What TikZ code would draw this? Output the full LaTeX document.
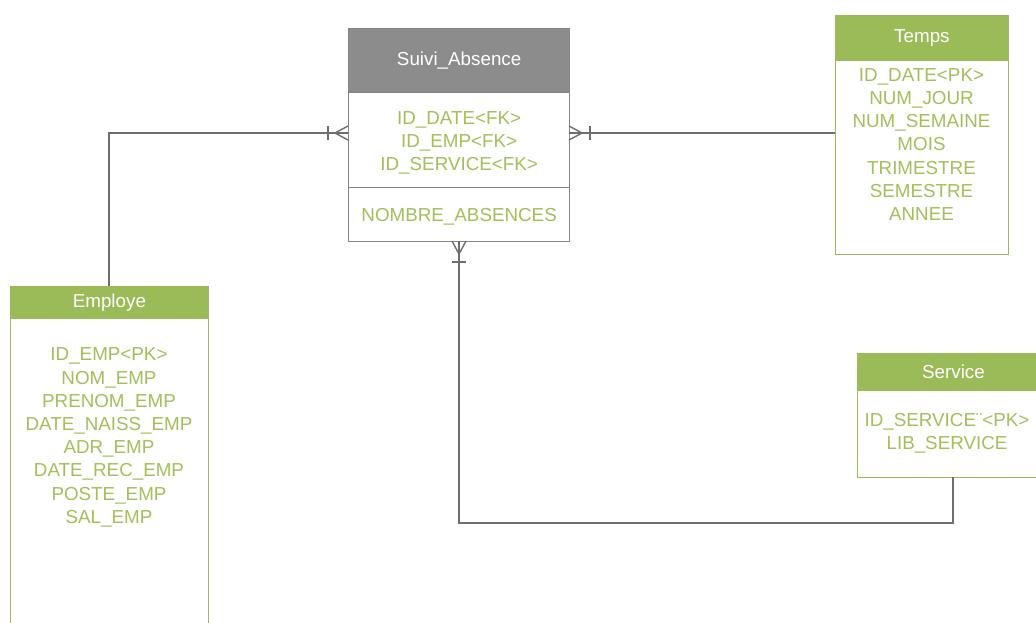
\documentclass[tikz,border=0pt]{standalone}
\usepackage{fontspec}
\setmainfont{Liberation Sans}
\definecolor{hdrgreen}{HTML}{9BBB59}
\definecolor{attrgreen}{HTML}{A3BF5A}
\definecolor{hdrgray}{HTML}{8C8C8C}
\definecolor{linegray}{HTML}{6E6E6E}
\definecolor{boxgray}{HTML}{858585}
\begin{document}
\begin{tikzpicture}[x=1pt,y=-1pt,
  txt/.style={font=\fontsize{18.8}{23.2}\selectfont, align=center, inner sep=0pt},
  attr/.style={txt, text=attrgreen},
  hdrtxt/.style={txt, text=white},
  ghdr/.style={fill=hdrgreen, draw=hdrgreen, line width=0.8pt},
  gbody/.style={draw=hdrgreen, line width=1.3pt, fill=white},
  rel/.style={draw=linegray, line width=1.4pt},
  foot/.style={draw=linegray, line width=1.4pt}]
\useasboundingbox (0,0) rectangle (1036,622);
\clip (0,0) rectangle (1036,622);

% ---------- connector anchors ----------
\coordinate (eTop) at (109,286);
\coordinate (sL) at (348,133);
\coordinate (sR) at (569,133);
\coordinate (tL) at (835,133);
\coordinate (sB) at (459,241);
\coordinate (vB) at (953,477);
\coordinate (vC) at (953,523);

% ---------- Suivi_Absence ----------
\node[fill=hdrgray, draw=boxgray, line width=1.3pt, minimum width=221pt, minimum height=64pt, anchor=north west, inner sep=0pt] (sh) at (348,28) {};
\node[draw=boxgray, line width=1.3pt, fill=white, minimum width=221pt, minimum height=95pt, anchor=north west, inner sep=0pt] (sb) at (348,92) {};
\node[draw=boxgray, line width=1.3pt, fill=white, minimum width=221pt, minimum height=54pt, anchor=north west, inner sep=0pt] (sm) at (348,187) {};
\node[hdrtxt] (sht) at (sh.center) {Suivi\_Absence};
\node[attr] (sbt) at ([yshift=-3pt]sb.center) {ID\_DATE<FK>\\ID\_EMP<FK>\\ID\_SERVICE<FK>};
\node[attr] (smt) at ([yshift=-2pt]sm.center) {NOMBRE\_ABSENCES};

% ---------- Temps ----------
\node[gbody, minimum width=173pt, minimum height=239pt, anchor=north west, inner sep=0pt] (tb) at (835,15) {};
\node[ghdr, minimum width=173pt, minimum height=45pt, anchor=north west, inner sep=0pt] (th) at (835,15) {};
\node[hdrtxt] (tht) at (th.center) {Temps};
\node[attr] (tbt) at (921.5,144.5) {ID\_DATE<PK>\\NUM\_JOUR\\NUM\_SEMAINE\\MOIS\\TRIMESTRE\\SEMESTRE\\ANNEE};

% ---------- Employe ----------
\node[gbody, minimum width=198pt, minimum height=360pt, anchor=north west, inner sep=0pt] (eb) at (10,286) {};
\node[ghdr, minimum width=198pt, minimum height=32pt, anchor=north west, inner sep=0pt] (eh) at (10,286) {};
\node[hdrtxt] (eht) at (eh.center) {Employe};
\node[attr] (ebt) at (109,437.5) {ID\_EMP<PK>\\NOM\_EMP\\PRENOM\_EMP\\DATE\_NAISS\_EMP\\ADR\_EMP\\DATE\_REC\_EMP\\POSTE\_EMP\\SAL\_EMP};

% ---------- Service ----------
\node[gbody, minimum width=200pt, minimum height=124pt, anchor=north west, inner sep=0pt] (vb) at (857,353) {};
\node[ghdr, minimum width=200pt, minimum height=37pt, anchor=north west, inner sep=0pt] (vh) at (857,353) {};
\node[hdrtxt] (vht) at (953.5,371.5) {Service};
\node[attr] (vbt) at (947,433.5) {ID\_SERVICE¨<PK>\\LIB\_SERVICE};

% ---------- connectors ----------
\draw[rel] (eTop) |- (sL);
\draw[rel] (tL) -- (sR);
\draw[rel] (vB) -- (vC) -| (sB);

% crow's feet at Suivi_Absence
\draw[foot] (335,133) -- (348,126) (335,133) -- (348,140);
\draw[foot] (328,126) -- (328,140);
\draw[foot] (582,133) -- (569,126) (582,133) -- (569,140);
\draw[foot] (590,126) -- (590,140);
\draw[foot] (459,254) -- (452,241) (459,254) -- (466,241);
\draw[foot] (452,262) -- (466,262);
\end{tikzpicture}
\end{document}
